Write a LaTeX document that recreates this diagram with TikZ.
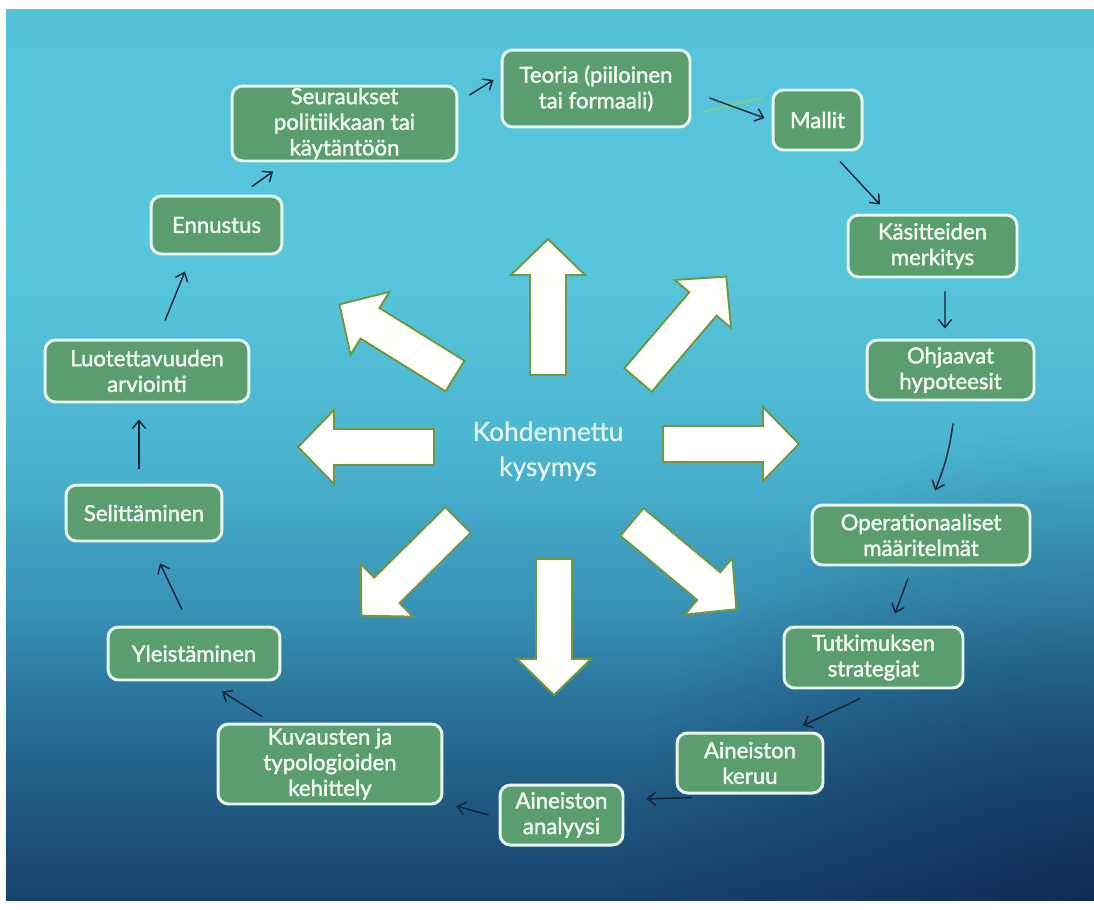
\documentclass[tikz,border=0pt]{standalone}
\usepackage{fontspec}
\setmainfont{Lato}
\newfontfamily\stagefont{Lato}[FakeBold=1.6]
\newfontfamily\questionfont{Lato}[FakeBold=0.8]
\usetikzlibrary{arrows.meta,calc,fadings}

% palette
\definecolor{boxgreen}{RGB}{90,158,112}
\definecolor{boxrim}{RGB}{232,246,236}
\definecolor{boxtext}{RGB}{244,251,242}
\definecolor{arrowrim}{RGB}{112,152,64}
\definecolor{arrowfill}{RGB}{254,254,250}
\definecolor{linkink}{RGB}{18,34,52}
\definecolor{centertext}{RGB}{228,246,240}
\definecolor{glintgreen}{RGB}{160,215,90}
\definecolor{deepnavy}{RGB}{8,26,66}

% backdrop colours, bottom to top
\definecolor{bgA}{RGB}{24,66,110}
\definecolor{bgB}{RGB}{32,90,130}
\definecolor{bgC}{RGB}{42,116,156}
\definecolor{bgD}{RGB}{57,148,184}
\definecolor{bgE}{RGB}{74,181,208}
\definecolor{bgF}{RGB}{88,199,220}
\definecolor{bgG}{RGB}{84,194,217}

\pgfdeclareverticalshading{backdrop}{100bp}{%
  color(0bp)=(bgA); color(25bp)=(bgA); color(30.6bp)=(bgB);
  color(36.2bp)=(bgC); color(41.9bp)=(bgD); color(50.3bp)=(bgE);
  color(61.5bp)=(bgF); color(75bp)=(bgG); color(100bp)=(bgG)}

\tikzfading[name=cornerfade, inner color=transparent!45, outer color=transparent!100]

\tikzset{
  stage/.style={draw=boxrim, line width=1.7pt, fill=boxgreen, rounded corners=6pt,
    text=boxtext, align=center, inner sep=0pt,
    font=\stagefont\fontsize{12.6}{14.6}\selectfont},
  centre/.style={text=centertext, align=center, inner sep=0pt,
    font=\questionfont\fontsize{15}{20}\selectfont},
  link/.style={draw=linkink, line width=0.8pt,
    -{Straight Barb[length=4.5pt,width=7.5pt]}},
  glint/.style={draw=glintgreen, line width=1.2pt, opacity=0.55, line cap=round},
  bigarrow/.style={draw=arrowrim, line width=1.1pt, fill=arrowfill, line join=miter},
  blockarrow/.pic={
    \path[bigarrow] (0,-18) -- (100,-18) -- (100,-37) -- (136,0)
      -- (100,37) -- (100,18) -- (0,18) -- cycle;
  }
}

\begin{document}
\begin{tikzpicture}[x=0.02cm, y=-0.02cm]
  \useasboundingbox (0,0) rectangle (1094,909);

  % backdrop
  \begin{scope}
    \clip (6,10) rectangle (1094,900);
    \shade[shading=backdrop] (6,10) rectangle (1094,900);
    \fill[deepnavy, path fading=cornerfade] (1094,900) circle (9.5cm);
  \end{scope}

  % central question
  \node[centre] (q) at (548,451) {Kohdennettu\\kysymys};

  % eight block arrows radiating from the question
  \pic[rotate=90]     at (548,375) {blockarrow};
  \pic[rotate=-90]    at (554,559) {blockarrow};
  \pic[rotate=180]    at (434,447) {blockarrow};
  \pic[rotate=0]      at (663,444) {blockarrow};
  \pic[rotate=148.2]  at (455,376) {blockarrow};
  \pic[rotate=49.5]   at (638,380) {blockarrow};
  \pic[rotate=224.7]  at (458,520) {blockarrow};
  \pic[rotate=-39.9]  at (632,522) {blockarrow};

  % research cycle stages
  \node[stage, minimum width=3.76cm, minimum height=1.54cm] (teo) at (596,88.5) {Teoria (piiloinen\\tai formaali)};
  \node[stage, minimum width=1.78cm, minimum height=1.20cm] (mal) at (817.5,120) {Mallit};
  \node[stage, minimum width=3.38cm, minimum height=1.24cm] (kas) at (932.5,246) {Käsitteiden\\merkitys};
  \node[stage, minimum width=3.34cm, minimum height=1.20cm] (ohj) at (950.5,370) {Ohjaavat\\hypoteesit};
  \node[stage, minimum width=4.36cm, minimum height=1.20cm] (ope) at (921,535) {Operationaaliset\\määritelmät};
  \node[stage, minimum width=3.58cm, minimum height=1.22cm] (tut) at (873.5,657.5) {Tutkimuksen\\strategiat};
  \node[stage, minimum width=2.92cm, minimum height=1.20cm] (ker) at (750,763) {Aineiston\\keruu};
  \node[stage, minimum width=2.46cm, minimum height=1.20cm] (ana) at (561.5,815) {Aineiston\\analyysi};
  \node[stage, minimum width=4.48cm, minimum height=1.60cm] (kuv) at (330,764) {Kuvausten ja\\typologioiden\\kehittely};
  \node[stage, minimum width=3.44cm, minimum height=1.06cm] (yle) at (194,653.5) {Yleistäminen};
  \node[stage, minimum width=3.12cm, minimum height=1.12cm] (sel) at (144,513) {Selittäminen};
  \node[stage, minimum width=4.08cm, minimum height=1.24cm] (luo) at (147,371) {Luotettavuuden\\arviointi};
  \node[stage, minimum width=2.62cm, minimum height=1.16cm] (enn) at (216.5,225) {Ennustus};
  \node[stage, minimum width=4.50cm, minimum height=1.50cm] (seu) at (344.5,123.5) {Seuraukset\\politiikkaan tai\\käytäntöön};

  % light streak beside the first link
  \path[glint] ([shift={(13,23)}]teo.east) -- ([shift={(-10,-22)}]mal.west);

  % links around the cycle
  \path[link] ([shift={(11,-28.5)}]seu.east) -- ([shift={(-7,-8.5)}]teo.west);
  \path[link] ([shift={(18,9.5)}]teo.east) -- ([shift={(-7,-2)}]mal.west);
  \path[link] ([shift={(22.5,10)}]mal.south) -- ([shift={(-52.5,-9)}]kas.north);
  \path[link] ([shift={(12.5,13)}]kas.south) -- ([shift={(-5.5,-10)}]ohj.north);
  \path[link] ([shift={(2.5,22)}]ohj.south) to[bend left=7] ([shift={(14,-13)}]ope.north);
  \path[link] ([shift={(-13,12)}]ope.south) -- ([shift={(21.5,-12)}]tut.north);
  \path[link] ([shift={(-13.5,9)}]tut.south) -- ([shift={(53,-6)}]ker.north);
  \path[link] ([shift={(-58,3)}]ker.south) -- ([shift={(22,-16)}]ana.east);
  \path[link] ([shift={(-10,0)}]ana.west) -- ([shift={(13,42)}]kuv.east);
  \path[link] ([shift={(-68,-6)}]kuv.north) -- ([shift={(28,10)}]yle.south);
  \path[link] ([shift={(-12,-16)}]yle.north) -- ([shift={(16,21)}]sel.south);
  \path[link] ([shift={(-5,-15)}]sel.north) -- ([shift={(-8,16)}]luo.south);
  \path[link] ([shift={(18,-18)}]luo.north) -- ([shift={(-31.5,16)}]enn.south);
  \path[link] ([shift={(35.5,-8)}]enn.north) -- ([shift={(-71.5,9)}]seu.south);
\end{tikzpicture}
\end{document}
